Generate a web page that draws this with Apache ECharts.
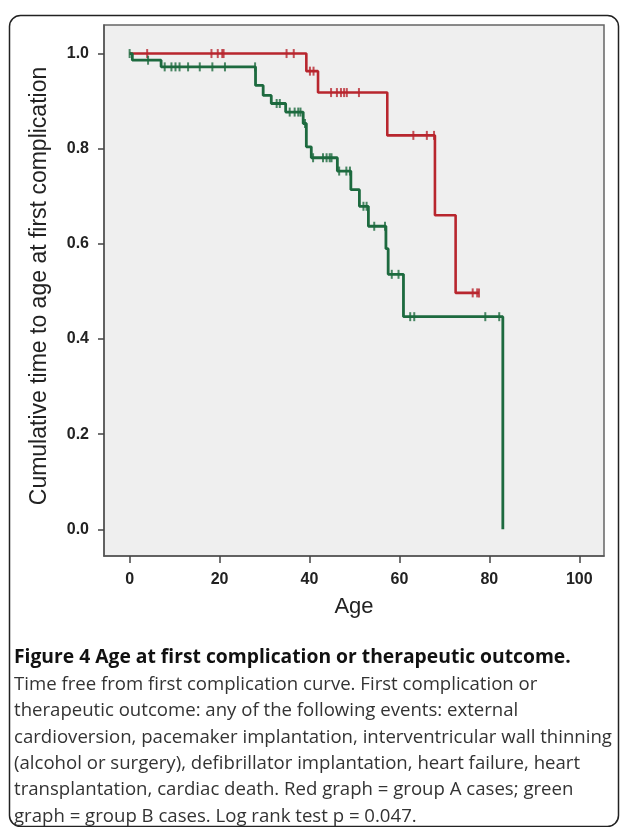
<!DOCTYPE html>
<html>
<head>
<meta charset="utf-8">
<script src="https://cdn.jsdelivr.net/npm/echarts@6/dist/echarts.min.js"></script>
<style>
  html, body { margin: 0; padding: 0; background: #ffffff; }
  #chart { width: 622px; height: 827px; }
</style>
</head>
<body>
<div id="chart"></div>
<script>
// ---- Data ----
// Group A (red): event times and survival after each step
var redTimes = [0, 39.3, 41.9, 57.3, 67.9, 72.5, 77.7];
var redSurv  = [1.0, 0.963, 0.918, 0.828, 0.660, 0.497, 0.497];
var redCensor = [3.9, 18.2, 19.6, 20.6, 20.9, 34.9, 36.5, 40.1, 40.9,
                 44.8, 46.1, 47.0, 47.7, 48.3, 51.0, 63.1, 66.1, 67.7,
                 76.3, 77.3, 77.7];
// Group B (green)
var greenTimes = [0, 0.6, 7.0, 28.0, 29.7, 31.5, 34.7, 38.6, 39.3, 40.4,
                  46.2, 49.2, 51.1, 53.1, 57.0, 57.5, 60.9, 83.0];
var greenSurv  = [1.0, 0.986, 0.972, 0.933, 0.912, 0.895, 0.877, 0.853, 0.804, 0.781,
                  0.753, 0.714, 0.679, 0.637, 0.590, 0.536, 0.447, 0.0];
var greenCensor = [0, 4.1, 7.8, 9.3, 10.2, 11.1, 13.0, 15.6, 18.4, 21.2, 27.9,
                   32.7, 33.4, 35.6, 36.7, 37.5, 38.0, 39.0, 40.8, 43.0, 43.8,
                   44.5, 44.9, 46.6, 48.2, 49.0, 52.0, 52.7, 54.4, 56.8,
                   58.3, 59.8, 62.4, 63.3, 79.1, 82.2];

var xTicks = [0, 20, 40, 60, 80, 100];
var yTicks = [0, 0.2, 0.4, 0.6, 0.8, 1.0];

var xTitle = 'Age';
var yTitle = 'Cumulative time to age at first complication';

var captionTitle = 'Figure 4 Age at first complication or therapeutic outcome.';
var captionLines = [
  'Time free from first complication curve. First complication or',
  'therapeutic outcome: any of the following events: external',
  'cardioversion, pacemaker implantation, interventricular wall thinning',
  '(alcohol or surgery), defibrillator implantation, heart failure, heart',
  'transplantation, cardiac death. Red graph = group A cases; green',
  'graph = group B cases. Log rank test p = 0.047.'
];

// ---- helpers ----
function pairs(ts, ss) { return ts.map(function (t, i) { return [t, ss[i]]; }); }
function survAt(ts, ss, t) {
  var v = ss[0];
  for (var i = 0; i < ts.length; i++) { if (ts[i] <= t) v = ss[i]; }
  return v;
}
function censorPts(cs, ts, ss) { return cs.map(function (c) { return [c, survAt(ts, ss, c)]; }); }

var RED = '#b8262e';
var GREEN = '#1d6a3f';

var chart = echarts.init(document.getElementById('chart'), null, { renderer: 'canvas' });

var graphics = [
  {
    type: 'rect', left: 7, top: 13, z: 0,
    shape: { x: 0, y: 0, width: 609, height: 811, r: 11 },
    style: { fill: 'none', stroke: '#222', lineWidth: 1.5 }
  },
  {
    type: 'text', x: 14, y: 658,
    style: { text: captionTitle, font: 'bold 19.3px "Open Sans"', fill: '#111', verticalAlign: 'middle' }
  },
  {
    type: 'text', x: 40, y: 286, rotation: Math.PI / 2,
    style: { text: yTitle, font: '23px "Liberation Sans"', fill: '#222', align: 'center', verticalAlign: 'middle' }
  }
];
captionLines.forEach(function (line, i) {
  graphics.push({
    type: 'text', x: 14, y: 684.5 + i * 26.4,
    style: { text: line, font: '18.6px "Open Sans"', fill: '#333', verticalAlign: 'middle' }
  });
});

var option = {
  animation: false,
  backgroundColor: '#ffffff',
  grid: {
    left: 104, top: 25, right: 18, bottom: 271,
    show: true, backgroundColor: '#efefef', borderColor: '#666', borderWidth: 1.5
  },
  xAxis: {
    type: 'value', min: -5.7, max: 105.5,
    name: xTitle, nameLocation: 'middle', nameGap: 40,
    nameTextStyle: { fontFamily: 'Liberation Sans', fontSize: 22, color: '#222' },
    axisLine: { show: true, onZero: false, lineStyle: { color: '#555', width: 1.5 } },
    axisTick: { show: true, length: 7, customValues: xTicks, lineStyle: { color: '#444', width: 1.5 } },
    axisLabel: { customValues: xTicks, margin: 16, fontFamily: 'Liberation Sans', fontSize: 16, fontWeight: 'bold', color: '#222' },
    splitLine: { show: false }
  },
  yAxis: {
    type: 'value', min: -0.056, max: 1.06,
    axisLine: { show: true, onZero: false, lineStyle: { color: '#555', width: 1.5 } },
    axisTick: { show: true, length: 6, customValues: yTicks, lineStyle: { color: '#444', width: 1.5 } },
    axisLabel: { customValues: yTicks, margin: 15, fontFamily: 'Liberation Sans', fontSize: 16, fontWeight: 'bold', color: '#222',
      formatter: function (v) { return v.toFixed(1); } },
    splitLine: { show: false }
  },
  series: [
    {
      type: 'line', step: 'end', data: pairs(redTimes, redSurv), showSymbol: false,
      lineStyle: { color: RED, width: 2.6 }, z: 2
    },
    {
      type: 'scatter', data: censorPts(redCensor, redTimes, redSurv),
      symbol: 'rect', symbolSize: [2, 9], itemStyle: { color: RED }, z: 3
    },
    {
      type: 'line', step: 'end', data: pairs(greenTimes, greenSurv), showSymbol: false,
      lineStyle: { color: GREEN, width: 2.8 }, z: 4
    },
    {
      type: 'scatter', data: censorPts(greenCensor, greenTimes, greenSurv),
      symbol: 'rect', symbolSize: [2, 9], itemStyle: { color: GREEN }, z: 5
    }
  ],
  graphic: graphics
};
chart.setOption(option);
</script>
</body>
</html>
